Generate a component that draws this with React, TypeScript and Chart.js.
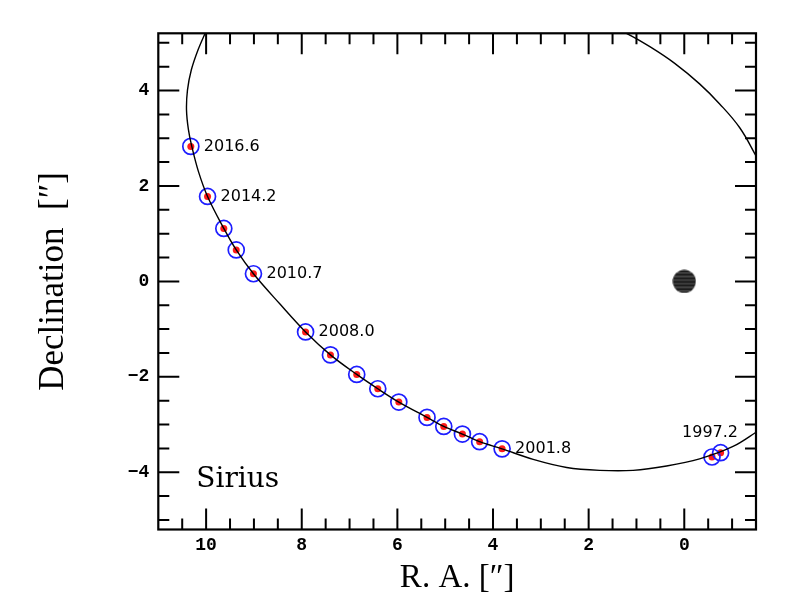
import React, { useEffect, useRef } from 'react';
import { Chart, registerables } from 'chart.js';

Chart.register(...registerables);

// Observed relative positions of Sirius B (R.A. offset, Declination offset, arcsec)
const observedRA = [10.32, 9.97, 9.63, 9.37, 9.01, 7.92, 7.40, 6.85, 6.41, 5.97, 5.38, 5.03, 4.64, 4.28, 3.81, -0.58, -0.76];
const observedDec = [2.83, 1.78, 1.11, 0.66, 0.16, -1.06, -1.54, -1.95, -2.25, -2.53, -2.85, -3.04, -3.20, -3.36, -3.51, -3.68, -3.59];
const epochLabels = ['2016.6', '2014.2', '', '', '2010.7', '2008.0', '', '', '', '', '', '', '', '', '2001.8', '1997.2', ''];

// Orbit curve (two visible arcs)
const orbitArcA_RA = [10.0, 10.17, 10.31, 10.39, 10.41, 10.37, 10.30, 10.16, 9.97, 9.63, 9.37, 9.01, 8.46, 7.92, 7.40, 6.85, 6.41, 5.97, 5.38, 5.03, 4.64, 4.28, 3.81, 3.16, 2.46, 1.77, 1.07, 0.37, -0.32, -1.02, -1.55];
const orbitArcA_Dec = [5.25, 4.85, 4.43, 4.01, 3.59, 3.18, 2.83, 2.30, 1.78, 1.11, 0.66, 0.16, -0.47, -1.06, -1.54, -1.95, -2.25, -2.53, -2.85, -3.04, -3.20, -3.36, -3.51, -3.73, -3.90, -3.96, -3.96, -3.87, -3.72, -3.46, -3.13];
const orbitArcB_RA = [1.43, 1.21, 0.72, 0.20, -0.32, -0.74, -1.16, -1.50, -1.58];
const orbitArcB_Dec = [5.28, 5.20, 4.92, 4.57, 4.14, 3.72, 3.22, 2.63, 2.47];

// Sirius A
const siriusA_RA = [0];
const siriusA_Dec = [0];

// Axes
const xMajorTicks = [10, 8, 6, 4, 2, 0];
const xTickLabels = ['10', '8', '6', '4', '2', '0'];
const yMajorTicks = [-4, -2, 0, 2, 4];
const yTickLabels = ['\u22124', '\u22122', '0', '2', '4'];
const X_MIN = -1.5;
const X_MAX = 11;
const Y_MIN = -5.2;
const Y_MAX = 5.2;
const MINOR_STEP = 0.5;

const toPts = (xs: number[], ys: number[]) => xs.map((x, i) => ({ x, y: ys[i] }));

function makeStripedDisc(): HTMLCanvasElement {
  const c = document.createElement('canvas');
  const s = 24;
  c.width = s;
  c.height = s;
  const g = c.getContext('2d')!;
  g.beginPath();
  g.arc(s / 2, s / 2, 11.5, 0, Math.PI * 2);
  g.closePath();
  g.fillStyle = '#1c1c1c';
  g.fill();
  g.save();
  g.clip();
  g.strokeStyle = '#5a5a5a';
  g.lineWidth = 1.1;
  for (let yy = 3.5; yy < s; yy += 3.6) {
    g.beginPath();
    g.moveTo(0, yy);
    g.lineTo(s, yy);
    g.stroke();
  }
  g.restore();
  return c;
}

const frameTicksPlugin = {
  id: 'frameTicks',
  afterDraw(chart: any) {
    const { ctx, chartArea } = chart;
    const { left, right, top, bottom } = chartArea;
    const xs = chart.scales.x;
    const ys = chart.scales.y;
    ctx.save();
    ctx.strokeStyle = '#000';
    ctx.lineWidth = 2;
    ctx.lineCap = 'butt';
    const MAJ = 21;
    const MIN = 11;
    for (let v = Math.ceil(X_MIN / MINOR_STEP) * MINOR_STEP; v <= X_MAX + 1e-9; v += MINOR_STEP) {
      const px = xs.getPixelForValue(v);
      if (px <= left + 1 || px >= right - 1) continue;
      const isMajor = Math.abs(v / 2 - Math.round(v / 2)) < 1e-6;
      const len = isMajor ? MAJ : MIN;
      ctx.beginPath();
      ctx.moveTo(px, bottom);
      ctx.lineTo(px, bottom - len);
      ctx.moveTo(px, top);
      ctx.lineTo(px, top + len);
      ctx.stroke();
    }
    for (let v = Math.ceil(Y_MIN / MINOR_STEP) * MINOR_STEP; v <= Y_MAX + 1e-9; v += MINOR_STEP) {
      const py = ys.getPixelForValue(v);
      if (py <= top + 1 || py >= bottom - 1) continue;
      const isMajor = Math.abs(v / 2 - Math.round(v / 2)) < 1e-6;
      const len = isMajor ? MAJ : MIN;
      ctx.beginPath();
      ctx.moveTo(left, py);
      ctx.lineTo(left + len, py);
      ctx.moveTo(right, py);
      ctx.lineTo(right - len, py);
      ctx.stroke();
    }
    ctx.lineWidth = 2.2;
    ctx.strokeRect(left, top, right - left, bottom - top);
    ctx.restore();
  },
};

const labelsPlugin = {
  id: 'epochLabels',
  afterDatasetsDraw(chart: any) {
    const { ctx, chartArea } = chart;
    const meta = chart.getDatasetMeta(2);
    ctx.save();
    ctx.fillStyle = '#000';
    ctx.font = '16px "DejaVu Sans"';
    meta.data.forEach((el: any, i: number) => {
      const txt = epochLabels[i];
      if (!txt) return;
      if (txt === '1997.2') {
        ctx.textAlign = 'center';
        ctx.textBaseline = 'middle';
        ctx.fillText(txt, el.x - 2, el.y - 24);
      } else {
        ctx.textAlign = 'left';
        ctx.textBaseline = 'middle';
        ctx.fillText(txt, el.x + 13, el.y);
      }
    });
    ctx.font = '28px "DejaVu Serif"';
    ctx.textAlign = 'left';
    ctx.textBaseline = 'alphabetic';
    ctx.fillText('Sirius', chartArea.left + 38, chartArea.bottom - 43);
    ctx.restore();
  },
};

export default function App() {
  const ref = useRef<HTMLCanvasElement | null>(null);

  useEffect(() => {
    if (!ref.current) return;
    const disc = makeStripedDisc();
    const chart = new Chart(ref.current, {
      type: 'scatter',
      data: {
        datasets: [
          {
            type: 'line',
            data: toPts(orbitArcA_RA, orbitArcA_Dec),
            borderColor: '#000',
            borderWidth: 1.4,
            pointRadius: 0,
            tension: 0.35,
            fill: false,
            showLine: true,
          } as any,
          {
            type: 'line',
            data: toPts(orbitArcB_RA, orbitArcB_Dec),
            borderColor: '#000',
            borderWidth: 1.4,
            pointRadius: 0,
            tension: 0.4,
            fill: false,
            showLine: true,
          } as any,
          {
            data: toPts(observedRA, observedDec),
            pointRadius: 8,
            pointBorderWidth: 1.7,
            pointBorderColor: '#1e1eff',
            pointBackgroundColor: 'rgba(0,0,0,0)',
            showLine: false,
          } as any,
          {
            data: toPts(observedRA, observedDec),
            pointRadius: 3.5,
            pointBorderWidth: 0,
            pointBackgroundColor: '#ff1a1a',
            pointBorderColor: '#ff1a1a',
            showLine: false,
          } as any,
          {
            data: toPts(siriusA_RA, siriusA_Dec),
            pointStyle: disc,
            pointRadius: 12,
            showLine: false,
          } as any,
        ],
      },
      options: {
        animation: false,
        responsive: false,
        devicePixelRatio: 1,
        layout: { padding: { left: 0, right: 44, top: 33.3, bottom: 0 } },
        plugins: {
          legend: { display: false },
          tooltip: { enabled: false },
        },
        scales: {
          x: {
            type: 'linear',
            reverse: true,
            min: X_MIN,
            max: X_MAX,
            grid: { display: false, drawTicks: false },
            border: { display: false },
            afterBuildTicks: (s: any) => {
              s.ticks = xMajorTicks.map((v) => ({ value: v }));
            },
            afterFit: (s: any) => {
              s.height = 81.5;
            },
            ticks: {
              autoSkip: false,
              maxRotation: 0,
              padding: 5,
              color: '#000',
              font: { family: '"Liberation Mono"', size: 18, weight: 'bold' },
              callback: (v: any) => {
                const i = xMajorTicks.indexOf(Number(v));
                return i >= 0 ? xTickLabels[i] : '';
              },
            },
            title: {
              display: true,
              text: 'R. A. [\u2033]',
              color: '#000',
              font: { family: '"Liberation Serif"', size: 33 },
              padding: { top: 0, bottom: 13 },
            },
          },
          y: {
            type: 'linear',
            min: Y_MIN,
            max: Y_MAX,
            grid: { display: false, drawTicks: false },
            border: { display: false },
            afterBuildTicks: (s: any) => {
              s.ticks = yMajorTicks.map((v) => ({ value: v }));
            },
            afterFit: (s: any) => {
              s.width = 158.3;
            },
            ticks: {
              autoSkip: false,
              padding: 9,
              color: '#000',
              font: { family: '"Liberation Mono"', size: 18, weight: 'bold' },
              callback: (v: any) => {
                const i = yMajorTicks.indexOf(Number(v));
                return i >= 0 ? yTickLabels[i] : '';
              },
            },
            title: {
              display: true,
              text: 'Declination  [\u2033]',
              color: '#000',
              font: { family: '"Liberation Serif"', size: 35 },
              padding: { top: 33, bottom: 0 },
            },
          },
        },
      } as any,
      plugins: [frameTicksPlugin, labelsPlugin],
    });
    return () => chart.destroy();
  }, []);

  return (
    <div style={{ width: 800, height: 611, background: '#fff' }}>
      <style>{'body{margin:0;background:#fff}'}</style>
      <canvas ref={ref} width={800} height={611} style={{ display: 'block' }} />
    </div>
  );
}
